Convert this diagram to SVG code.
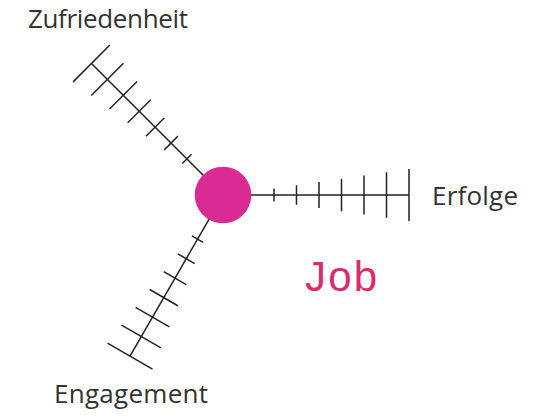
<svg xmlns="http://www.w3.org/2000/svg" width="539" height="419" viewBox="0 0 539 419">
  <style>
    .axis { stroke: #222; stroke-width: 1.5; fill: none; stroke-linecap: butt; }
    .label { font-family: "Open Sans", "Liberation Sans", sans-serif; font-size: 26px; fill: #333; }
    .title { font-family: "Liberation Sans", Arial, sans-serif; font-size: 42px; fill: #DA2A72; }
    .hub { fill: #DA2A94; }
  </style>
  <defs>
    <!-- one scale: a spoke along +x from the hub with seven growing ticks -->
    <g id="scale">
      <line class="axis" x1="0" y1="0" x2="186" y2="0"/>
      <line class="axis" x1="51" y1="-6.5" x2="51" y2="6.5"/>
      <line class="axis" x1="73.5" y1="-9.75" x2="73.5" y2="9.75"/>
      <line class="axis" x1="96" y1="-13" x2="96" y2="13"/>
      <line class="axis" x1="118.5" y1="-16.25" x2="118.5" y2="16.25"/>
      <line class="axis" x1="141" y1="-19.5" x2="141" y2="19.5"/>
      <line class="axis" x1="163.5" y1="-22.75" x2="163.5" y2="22.75"/>
      <line class="axis" x1="186" y1="-26" x2="186" y2="26"/>
    </g>
  </defs>

  <g id="connectors">
    <use href="#scale" transform="translate(223 195) rotate(225)"/>
    <use href="#scale" transform="translate(223 195)"/>
    <use href="#scale" transform="translate(223 195) rotate(120)"/>
  </g>

  <g id="job">
    <circle class="hub" cx="223" cy="195" r="28.3"/>
    <text class="title" x="305" y="290.7" textLength="72">Job</text>
  </g>

  <g id="zufriedenheit">
    <text class="label" x="28" y="28.3" textLength="160">Zufriedenheit</text>
  </g>

  <g id="erfolge">
    <text class="label" x="432" y="204.5" textLength="86">Erfolge</text>
  </g>

  <g id="engagement">
    <text class="label" x="54" y="403.3" textLength="154">Engagement</text>
  </g>
</svg>
